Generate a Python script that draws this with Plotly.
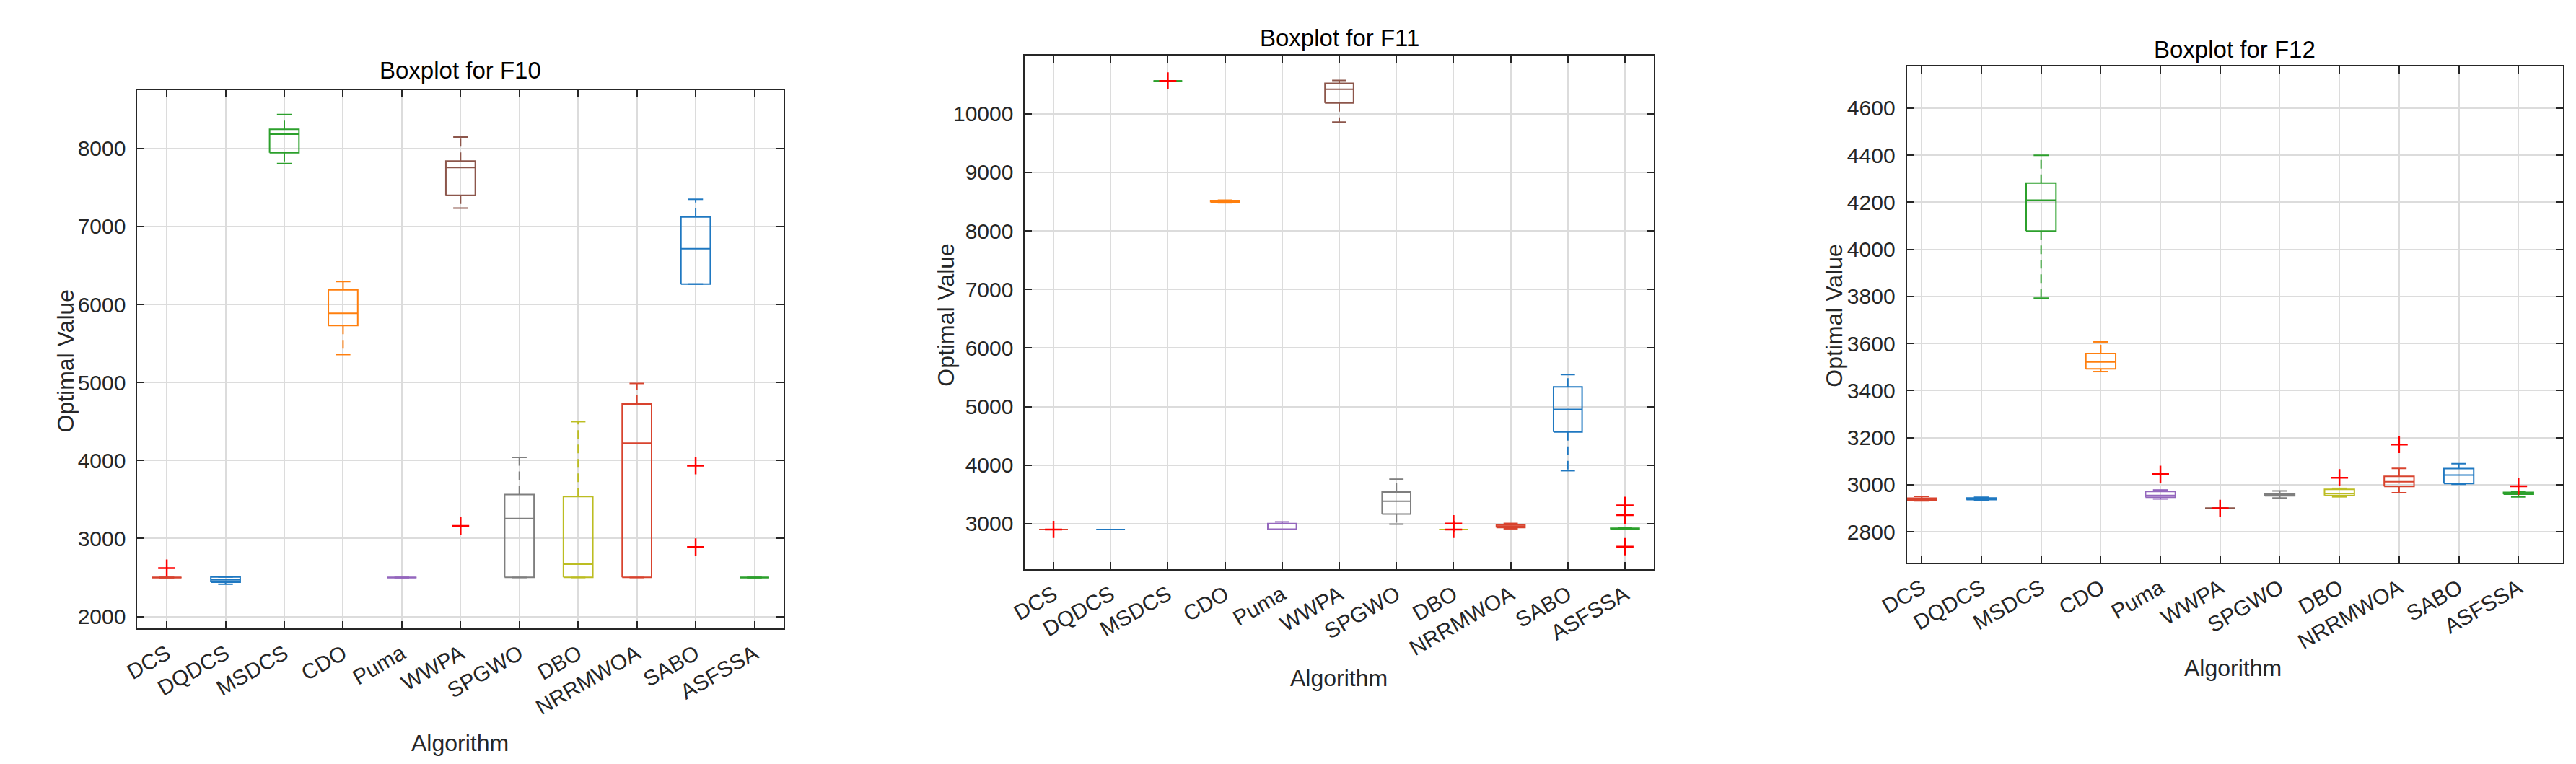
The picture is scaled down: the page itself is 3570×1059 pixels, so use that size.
import plotly.graph_objects as go

algorithms = ["DCS", "DQDCS", "MSDCS", "CDO", "Puma", "WWPA", "SPGWO", "DBO", "NRRMWOA", "SABO", "ASFSSA"]
colors = ["#d8432e", "#1f78c1", "#2ca02c", "#ff7f0e", "#9467bd", "#8c564b",
          "#7f7f7f", "#bcbd22", "#d8432e", "#1f78c1", "#2ca02c"]

# ---- F10 ----
f10_low  = [2500, 2414, 7807, 5358, 2500, 7235, 2500, 2500, 2500, 6262, 2500]
f10_q1   = [2500, 2439, 7945, 5729, 2500, 7399, 2502, 2502, 2502, 6262, 2500]
f10_med  = [2500, 2470, 8183, 5886, 2500, 7756, 3256, 2672, 4222, 6714, 2500]
f10_q3   = [2500, 2508, 8246, 6187, 2500, 7838, 3563, 3538, 4724, 7122, 2500]
f10_high = [2500, 2508, 8434, 6294, 2500, 8146, 4040, 4498, 4988, 7348, 2500]
f10_out  = [[2621], [], [], [], [], [3161], [], [], [], [3933, 2891], []]

# ---- F11 ----
f11_low  = [2900, 2900, 10563, 8480, 2900, 9859, 2992, 2900, 2913, 3905, 2900]
f11_q1   = [2900, 2900, 10563, 8488, 2900, 10186, 3165, 2900, 2935, 4566, 2903]
f11_med  = [2900, 2900, 10563, 8505, 2905, 10420, 3384, 2900, 2958, 4951, 2912]
f11_q3   = [2900, 2900, 10563, 8518, 3000, 10521, 3541, 2900, 2980, 5337, 2922]
f11_high = [2900, 2900, 10563, 8525, 3030, 10571, 3760, 2900, 3004, 5546, 2925]
f11_out  = [[2901], [], [10563], [], [], [], [], [3000, 2901], [], [], [3314, 3145, 2607]]

# ---- F12 ----
f12_low  = [2932, 2933, 3793, 3481, 2940, 2900, 2944, 2949, 2966, 3002, 2949]
f12_q1   = [2935, 2937, 4078, 3493, 2947, 2900, 2953, 2955, 2993, 3005, 2960]
f12_med  = [2938, 2940, 4209, 3522, 2955, 2900, 2957, 2963, 3013, 3041, 2964]
f12_q3   = [2943, 2944, 4282, 3558, 2972, 2900, 2962, 2981, 3036, 3069, 2968]
f12_high = [2951, 2947, 4400, 3607, 2978, 2900, 2974, 2985, 3070, 3090, 2972]
f12_out  = [[], [], [], [], [3045], [2900], [], [3030], [3171], [], [2994]]

titles = ["Boxplot for F10", "Boxplot for F11", "Boxplot for F12"]
y_ticks = [list(range(2000, 8001, 1000)), list(range(3000, 10001, 1000)), list(range(2800, 4601, 200))]

W, H = 3570, 1059
FONT = "Liberation Sans, Arial, Helvetica, sans-serif"
AXC = "#262626"

# panel geometry in pixels: (left, right, top, bottom)
panels = [(144, 1050, 117, 863), (1388, 2269, 69, 781), (2624, 3544, 83.5, 772)]
y_ranges = [[1848, 8747], [2222, 10996], [2669, 4779]]
x_ranges = [[-0.5, 10.5], [-0.5, 10.5], [-0.25, 10.75]]
title_pos = [(597, 90), (1829, 45), (3084, 60)]
ylab_pos = [(43, 492), (1277, 428), (2522, 429)]
xlab_pos = [(596, 1022), (1828, 932), (3081, 918)]

data = [
    (f10_low, f10_q1, f10_med, f10_q3, f10_high, f10_out),
    (f11_low, f11_q1, f11_med, f11_q3, f11_high, f11_out),
    (f12_low, f12_q1, f12_med, f12_q3, f12_high, f12_out),
]

fig = go.Figure()
BW = 0.25   # half box width
CW = 0.125  # half cap width

for p, (low, q1, med, q3, high, outs) in enumerate(data):
    xa = "x" if p == 0 else f"x{p+1}"
    ya = "y" if p == 0 else f"y{p+1}"
    for i in range(len(algorithms)):
        c = colors[i]
        # whiskers (dashed)
        fig.add_trace(go.Scatter(
            x=[i, i, None, i, i], y=[q3[i], high[i], None, q1[i], low[i]],
            mode="lines", line=dict(color=c, width=2, dash="12px,8px"),
            xaxis=xa, yaxis=ya, hoverinfo="skip", showlegend=False))
        # box, median, caps
        fig.add_trace(go.Scatter(
            x=[i - BW, i + BW, i + BW, i - BW, i - BW, None,
               i - BW, i + BW, None, i - CW, i + CW, None, i - CW, i + CW],
            y=[q1[i], q1[i], q3[i], q3[i], q1[i], None,
               med[i], med[i], None, high[i], high[i], None, low[i], low[i]],
            mode="lines", line=dict(color=c, width=2),
            xaxis=xa, yaxis=ya, name=algorithms[i], showlegend=False))
    ox, oy = [], []
    for i, vals in enumerate(outs):
        for v in vals:
            ox.append(i)
            oy.append(v)
    fig.add_trace(go.Scatter(
        x=ox, y=oy, mode="markers",
        marker=dict(symbol="cross-thin", size=17, line=dict(color="#ff0000", width=2.5)),
        xaxis=xa, yaxis=ya, showlegend=False))

layout = dict(width=W, height=H, margin=dict(l=0, r=0, t=0, b=0),
              paper_bgcolor="white", plot_bgcolor="white", showlegend=False,
              font=dict(family=FONT, color=AXC))
annotations = []
for p, (l, r, t, b) in enumerate(panels):
    sx = "" if p == 0 else str(p + 1)
    layout["xaxis" + sx] = dict(
        domain=[l / W, r / W], anchor="y" + sx, range=x_ranges[p],
        tickmode="array", tickvals=list(range(len(algorithms))), ticktext=algorithms,
        tickangle=-30, tickfont=dict(size=30, family=FONT, color=AXC),
        showgrid=True, gridcolor="#dcdcdc", gridwidth=2, zeroline=False,
        showline=True, linecolor=AXC, linewidth=2, mirror="allticks",
        ticks="inside", ticklen=10, tickwidth=2, tickcolor=AXC, ticklabelstandoff=4)
    layout["yaxis" + sx] = dict(
        domain=[1 - b / H, 1 - t / H], anchor="x" + sx, range=y_ranges[p],
        tickmode="array", tickvals=y_ticks[p], ticktext=[str(v) for v in y_ticks[p]],
        tickfont=dict(size=30, family=FONT, color=AXC),
        showgrid=True, gridcolor="#dcdcdc", gridwidth=2, zeroline=False,
        showline=True, linecolor=AXC, linewidth=2, mirror="allticks",
        ticks="inside", ticklen=10, tickwidth=2, tickcolor=AXC, ticklabelstandoff=8)
    tx, ty = title_pos[p]
    annotations.append(dict(text=titles[p], x=tx / W, y=1 - ty / H, xref="paper", yref="paper",
                            showarrow=False, xanchor="center", yanchor="middle",
                            font=dict(size=33, family=FONT, color="black")))
    lx, ly = ylab_pos[p]
    annotations.append(dict(text="Optimal Value", x=lx / W, y=1 - ly / H, xref="paper", yref="paper",
                            showarrow=False, xanchor="center", yanchor="middle", textangle=-90,
                            font=dict(size=32, family=FONT, color=AXC)))
    ax_, ay_ = xlab_pos[p]
    annotations.append(dict(text="Algorithm", x=ax_ / W, y=1 - ay_ / H, xref="paper", yref="paper",
                            showarrow=False, xanchor="center", yanchor="middle",
                            font=dict(size=32, family=FONT, color=AXC)))
layout["annotations"] = annotations
fig.update_layout(**layout)
fig.write_html("out.html")
